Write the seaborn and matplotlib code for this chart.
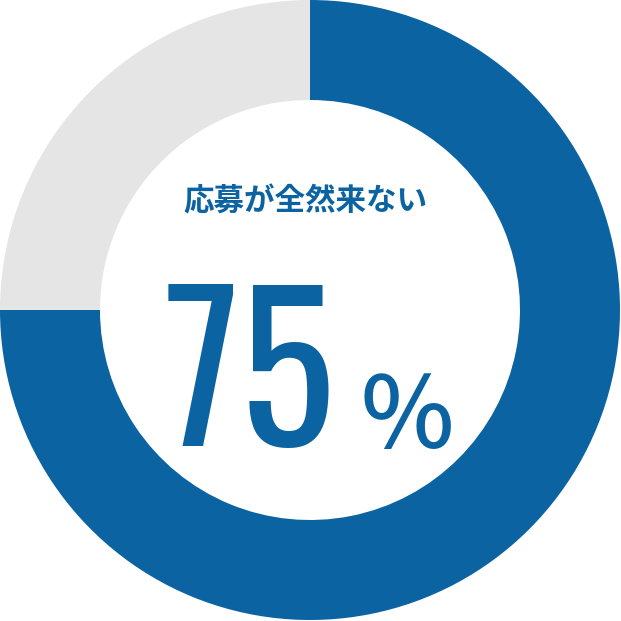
import matplotlib
matplotlib.use('Agg')
import matplotlib.pyplot as plt
from matplotlib import font_manager
from matplotlib.font_manager import FontProperties
from matplotlib.textpath import TextPath
import seaborn as sns

labels = ['応募が全然来ない', 'その他']
shares = [75, 25]
colors = ['#0b63a2', '#e5e5e5']
title_text = '応募が全然来ない'
value_text = '75'
unit_text = '％'

sns.set_theme(style='white')
plt.rcParams['font.family'] = ['Noto Sans CJK JP', 'DejaVu Sans']


def ink(text, prop):
    return TextPath((0, 0), text, size=100, prop=prop).get_extents()


def fit(text, prop, ink_h):
    """font size (pt at dpi 100) giving ink height ink_h px, plus ink offsets"""
    ext = ink(text, prop)
    size = 100 * ink_h / ext.height * 0.72
    k = size / 100 / 0.72
    return size, ext.x0 * k, ext.y0 * k


# pick the condensed face whose "75" is closest to the reference shape
names = {f.name for f in font_manager.fontManager.ttflist}
candidates = [n for n in ['Roboto Condensed', 'Oswald', 'Barlow Condensed',
                          'Fira Sans Extra Condensed', 'Fira Sans Condensed']
              if n in names] or ['Roboto']
target = 172 / 163


def aspect(fam):
    e = ink(value_text, FontProperties(family=fam, weight='heavy'))
    return abs(e.width / e.height - target)


num_family = min(candidates, key=aspect)
num_prop = FontProperties(family=num_family, weight='heavy')
unit_prop = FontProperties(family='Noto Sans CJK JP', weight='medium')

fig = plt.figure(figsize=(6.21, 6.21), dpi=100)
ax = fig.add_axes([0, 0, 1, 1])

ax.pie(shares, colors=colors, startangle=90, counterclock=False,
       center=(310, 311), radius=310, frame=True,
       wedgeprops=dict(width=100, linewidth=0))
ax.set_xlim(0, 621)
ax.set_ylim(0, 621)
ax.set_aspect('equal')
ax.axis('off')

ax.text(305, 621 - 201, title_text, ha='center', va='center',
        fontsize=22, fontweight='bold', color=colors[0])

size, dx, dy = fit(value_text, num_prop, 163)
ax.text(168 - dx, 621 - 448 - dy, value_text, ha='left', va='baseline',
        fontsize=size, fontproperties=num_prop, color=colors[0])

size, dx, dy = fit(unit_text, unit_prop, 76)
ax.text(364 - dx, 621 - 449 - dy, unit_text, ha='left', va='baseline',
        fontsize=size, fontproperties=unit_prop, color=colors[0])

fig.savefig('out.png', dpi=100)
